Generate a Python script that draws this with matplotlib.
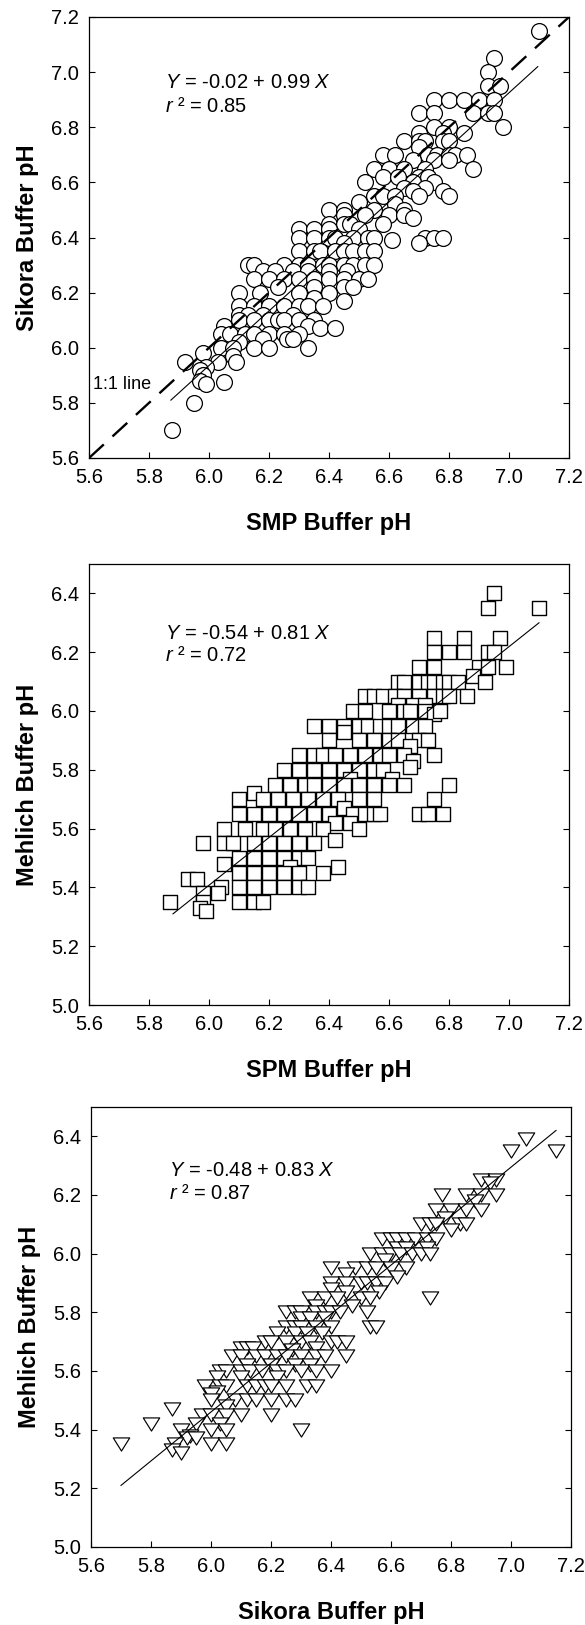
import matplotlib
matplotlib.use('Agg')
import matplotlib.pyplot as plt
from matplotlib.ticker import MultipleLocator, FormatStrFormatter
from matplotlib.path import Path

plt.rcParams['font.family'] = ['Liberation Sans', 'DejaVu Sans']
plt.rcParams['mathtext.fontset'] = 'custom'
plt.rcParams['mathtext.rm'] = 'Liberation Sans'
plt.rcParams['mathtext.it'] = 'Liberation Sans:italic'

# ---------------- Panel 1: SMP vs Sikora ----------------
smp_x = [7.10, 6.95, 6.93, 6.93, 6.97,
         6.75, 6.80, 6.85, 6.90, 6.95,
         6.70, 6.75, 6.88, 6.93, 6.95,
         6.75, 6.80, 6.98,
         6.70, 6.78, 6.85,
         6.65, 6.70, 6.72, 6.78, 6.80,
         6.70,
         6.58, 6.62, 6.73, 6.76, 6.80, 6.82, 6.86,
         6.68, 6.75, 6.80,
         6.55, 6.60, 6.65, 6.72, 6.88,
         6.58, 6.63, 6.70, 6.73,
         6.52, 6.68, 6.75,
         6.65, 6.72,
         6.68, 6.78,
         6.55, 6.58, 6.62, 6.70, 6.80,
         6.50, 6.62,
         6.40, 6.45, 6.55, 6.65,
         6.45, 6.52, 6.60, 6.65,
         6.68,
         6.40, 6.45, 6.47, 6.58,
         6.30, 6.35, 6.40, 6.50,
         6.30, 6.35, 6.40, 6.42, 6.48, 6.53, 6.55, 6.72, 6.75, 6.78,
         6.61,
         6.45, 6.70,
         6.30, 6.35, 6.37, 6.42, 6.45, 6.48, 6.52, 6.55,
         6.13, 6.15, 6.25, 6.30, 6.33, 6.38, 6.40, 6.45, 6.48, 6.52, 6.55,
         6.18, 6.22, 6.28, 6.33, 6.40, 6.46,
         6.15, 6.20, 6.25, 6.30, 6.35, 6.40, 6.45, 6.50, 6.53,
         6.23, 6.35, 6.45, 6.48,
         6.10, 6.17, 6.30, 6.40,
         6.35, 6.45,
         6.10, 6.15, 6.20, 6.25, 6.30, 6.33, 6.38,
         6.10, 6.13, 6.18, 6.28,
         6.10, 6.15, 6.20, 6.23, 6.25, 6.30, 6.35,
         6.05, 6.33,
         6.37, 6.42,
         6.04, 6.07, 6.12, 6.15, 6.20, 6.25, 6.30,
         6.18, 6.26, 6.28,
         6.10,
         6.04, 6.08, 6.15, 6.20, 6.33,
         5.98, 6.08,
         5.92, 6.03, 6.09,
         5.99, 5.97, 5.98,
         5.97, 6.05, 5.99,
         5.95, 5.875]
sikora_y = [7.15, 7.05, 7.00, 6.95, 6.95,
            6.90, 6.90, 6.90, 6.90, 6.90,
            6.85, 6.85, 6.85, 6.85, 6.85,
            6.80, 6.80, 6.80,
            6.78, 6.78, 6.78,
            6.75, 6.75, 6.75, 6.75, 6.75,
            6.73,
            6.70, 6.70, 6.70, 6.70, 6.70, 6.70, 6.70,
            6.68, 6.68, 6.68,
            6.65, 6.65, 6.65, 6.65, 6.65,
            6.62, 6.62, 6.62, 6.62,
            6.60, 6.60, 6.60,
            6.58, 6.58,
            6.57, 6.57,
            6.55, 6.55, 6.55, 6.55, 6.55,
            6.53, 6.52,
            6.50, 6.50, 6.50, 6.50,
            6.48, 6.48, 6.48, 6.48,
            6.47,
            6.45, 6.45, 6.45, 6.45,
            6.43, 6.43, 6.43, 6.43,
            6.40, 6.40, 6.40, 6.40, 6.40, 6.40, 6.40, 6.40, 6.40, 6.40,
            6.39,
            6.38, 6.38,
            6.35, 6.35, 6.35, 6.35, 6.35, 6.35, 6.35, 6.35,
            6.30, 6.30, 6.30, 6.30, 6.30, 6.30, 6.30, 6.30, 6.30, 6.30, 6.30,
            6.28, 6.28, 6.28, 6.28, 6.28, 6.28,
            6.25, 6.25, 6.25, 6.25, 6.25, 6.25, 6.25, 6.25, 6.25,
            6.22, 6.22, 6.22, 6.22,
            6.20, 6.20, 6.20, 6.20,
            6.18, 6.17,
            6.15, 6.15, 6.15, 6.15, 6.15, 6.15, 6.15,
            6.12, 6.12, 6.12, 6.12,
            6.10, 6.10, 6.10, 6.10, 6.10, 6.10, 6.10,
            6.08, 6.08,
            6.07, 6.07,
            6.05, 6.05, 6.05, 6.05, 6.05, 6.05, 6.05,
            6.03, 6.03, 6.03,
            6.02,
            6.00, 6.00, 6.00, 6.00, 6.00,
            5.98, 5.97,
            5.95, 5.95, 5.95,
            5.93, 5.92, 5.90,
            5.88, 5.875, 5.87,
            5.80, 5.70]
reg1_x = [5.873, 7.096]
reg1_y = [5.81, 7.02]
one_to_one = [5.6, 7.2]

# ---------------- Panel 2: SPM vs Mehlich ----------------
spm_x = [6.95,
         6.93, 7.10,
         6.75, 6.85, 6.97,
         6.75, 6.80, 6.85, 6.93, 6.95,
         6.70, 6.75, 6.90, 6.93, 6.99,
         6.88,
         6.63, 6.65, 6.70, 6.73, 6.75, 6.78, 6.80, 6.83, 6.92,
         6.52, 6.55, 6.58, 6.62, 6.65, 6.70, 6.75, 6.78, 6.80, 6.86,
         6.63, 6.68, 6.72,
         6.48, 6.52, 6.60, 6.65, 6.67, 6.72, 6.75, 6.77,
         6.35, 6.40, 6.45, 6.50, 6.53, 6.57, 6.60, 6.63, 6.68, 6.72,
         6.45,
         6.40, 6.50, 6.55, 6.60, 6.63, 6.70, 6.73,
         6.67,
         6.30, 6.35, 6.38, 6.42, 6.47, 6.52, 6.57, 6.60, 6.65, 6.75,
         6.68,
         6.67,
         6.25, 6.30, 6.35, 6.40, 6.45, 6.50, 6.55, 6.58,
         6.47, 6.61,
         6.22, 6.27, 6.32, 6.35, 6.40, 6.45, 6.50, 6.55, 6.60, 6.65, 6.80,
         6.15,
         6.10, 6.18, 6.23, 6.28, 6.33, 6.38, 6.43, 6.50, 6.55, 6.75,
         6.45,
         6.10, 6.15, 6.20, 6.25, 6.30, 6.35, 6.40, 6.48, 6.52, 6.55, 6.57, 6.70, 6.73, 6.78,
         6.42, 6.47,
         6.05, 6.12, 6.18, 6.22, 6.27, 6.32, 6.38, 6.50,
         6.42,
         5.98, 6.05, 6.08, 6.15, 6.20, 6.25, 6.30, 6.35,
         6.10, 6.15, 6.20, 6.25, 6.30, 6.33,
         6.05,
         6.27, 6.43,
         6.10, 6.15, 6.20, 6.25, 6.30, 6.38,
         5.93, 5.96,
         6.04, 6.10, 6.15, 6.20, 6.25, 6.30, 6.33,
         5.98, 6.03,
         5.87, 5.98, 6.10, 6.15, 6.18,
         5.97, 5.99]
mehlich_y2 = [6.40,
              6.35, 6.35,
              6.25, 6.25, 6.25,
              6.20, 6.20, 6.20, 6.20, 6.20,
              6.15, 6.15, 6.15, 6.15, 6.15,
              6.12,
              6.10, 6.10, 6.10, 6.10, 6.10, 6.10, 6.10, 6.10, 6.10,
              6.05, 6.05, 6.05, 6.05, 6.05, 6.05, 6.05, 6.05, 6.05, 6.05,
              6.02, 6.02, 6.02,
              6.00, 6.00, 6.00, 6.00, 6.00, 6.00, 5.99, 6.00,
              5.95, 5.95, 5.95, 5.95, 5.95, 5.95, 5.95, 5.95, 5.95, 5.95,
              5.93,
              5.90, 5.90, 5.90, 5.90, 5.90, 5.90, 5.90,
              5.88,
              5.85, 5.85, 5.85, 5.85, 5.85, 5.85, 5.85, 5.85, 5.85, 5.85,
              5.83,
              5.81,
              5.80, 5.80, 5.80, 5.80, 5.80, 5.80, 5.80, 5.80,
              5.77, 5.77,
              5.75, 5.75, 5.75, 5.75, 5.75, 5.75, 5.75, 5.75, 5.75, 5.75, 5.75,
              5.72,
              5.70, 5.70, 5.70, 5.70, 5.70, 5.70, 5.70, 5.70, 5.70, 5.70,
              5.67,
              5.65, 5.65, 5.65, 5.65, 5.65, 5.65, 5.65, 5.65, 5.65, 5.65, 5.65, 5.65, 5.65, 5.65,
              5.62, 5.62,
              5.60, 5.60, 5.60, 5.60, 5.60, 5.60, 5.60, 5.60,
              5.56,
              5.55, 5.55, 5.55, 5.55, 5.55, 5.55, 5.55, 5.55,
              5.50, 5.50, 5.50, 5.50, 5.50, 5.50,
              5.48,
              5.47, 5.47,
              5.45, 5.45, 5.45, 5.45, 5.45, 5.45,
              5.43, 5.43,
              5.40, 5.40, 5.40, 5.40, 5.40, 5.40, 5.40,
              5.38, 5.38,
              5.35, 5.35, 5.35, 5.35, 5.35,
              5.33, 5.32]
reg2_x = [5.88, 7.10]
reg2_y = [5.31, 6.30]

# ---------------- Panel 3: Sikora vs Mehlich ----------------
sikora_x3 = [7.05,
             7.00, 7.15,
             6.90, 6.95,
             6.93,
             6.77, 6.85, 6.90, 6.95,
             6.88,
             6.75, 6.80, 6.85, 6.90,
             6.78,
             6.70, 6.73, 6.75, 6.83, 6.85,
             6.80,
             6.57, 6.60, 6.62, 6.65, 6.68, 6.72, 6.75,
             6.62, 6.65, 6.72,
             6.53, 6.57, 6.60, 6.63, 6.67, 6.70, 6.73,
             6.58,
             6.40, 6.48, 6.52, 6.55, 6.60, 6.65,
             6.45,
             6.62,
             6.40, 6.45, 6.50, 6.52, 6.55, 6.58,
             6.40,
             6.45, 6.56,
             6.33, 6.38, 6.42, 6.50, 6.53, 6.73,
             6.35, 6.47,
             6.25, 6.28, 6.30, 6.35, 6.38, 6.40, 6.43, 6.52,
             6.30, 6.33, 6.38,
             6.25, 6.28, 6.30, 6.35, 6.40, 6.53, 6.55,
             6.22, 6.28, 6.32, 6.37,
             6.18, 6.20, 6.25, 6.30, 6.33, 6.40, 6.42, 6.45,
             6.10, 6.12, 6.14, 6.35,
             6.27,
             6.07, 6.10, 6.15, 6.18, 6.22, 6.25, 6.30, 6.35, 6.38, 6.45,
             6.12, 6.20, 6.28, 6.33,
             6.03, 6.05, 6.10, 6.13, 6.17, 6.22, 6.25, 6.30, 6.35, 6.40,
             6.02, 6.10, 6.22,
             5.98, 6.03, 6.05, 6.12, 6.15, 6.18, 6.20, 6.25, 6.32, 6.35,
             6.02,
             6.00,
             6.00, 6.08, 6.12, 6.15, 6.20, 6.25, 6.28,
             6.05,
             5.87,
             5.97, 6.00, 6.05, 6.10, 6.20,
             5.80, 5.95, 6.03,
             5.90, 6.00, 6.05, 6.30,
             5.93,
             5.92, 5.95,
             5.70, 5.88, 6.00, 6.05,
             5.87,
             5.90]
mehlich_y3 = [6.39,
              6.35, 6.35,
              6.25, 6.25,
              6.24,
              6.20, 6.20, 6.20, 6.20,
              6.18,
              6.15, 6.15, 6.15, 6.15,
              6.12,
              6.10, 6.10, 6.10, 6.10, 6.10,
              6.08,
              6.05, 6.05, 6.05, 6.05, 6.05, 6.05, 6.05,
              6.02, 6.02, 6.02,
              6.00, 6.00, 6.00, 6.00, 6.00, 6.00, 6.00,
              5.98,
              5.95, 5.95, 5.95, 5.95, 5.95, 5.95,
              5.93,
              5.92,
              5.90, 5.90, 5.90, 5.90, 5.90, 5.90,
              5.88,
              5.87, 5.87,
              5.85, 5.85, 5.85, 5.85, 5.85, 5.85,
              5.82, 5.82,
              5.80, 5.80, 5.80, 5.80, 5.80, 5.80, 5.80, 5.80,
              5.78, 5.78, 5.78,
              5.75, 5.75, 5.75, 5.75, 5.75, 5.75, 5.75,
              5.73, 5.73, 5.73, 5.73,
              5.70, 5.70, 5.70, 5.70, 5.70, 5.70, 5.70, 5.70,
              5.68, 5.68, 5.68, 5.68,
              5.67,
              5.65, 5.65, 5.65, 5.65, 5.65, 5.65, 5.65, 5.65, 5.65, 5.65,
              5.62, 5.62, 5.62, 5.62,
              5.60, 5.60, 5.60, 5.60, 5.60, 5.60, 5.60, 5.60, 5.60, 5.60,
              5.58, 5.58, 5.58,
              5.55, 5.55, 5.55, 5.55, 5.55, 5.55, 5.55, 5.55, 5.55, 5.55,
              5.53,
              5.52,
              5.50, 5.50, 5.50, 5.50, 5.50, 5.50, 5.50,
              5.48,
              5.47,
              5.45, 5.45, 5.45, 5.45, 5.45,
              5.42, 5.42, 5.42,
              5.40, 5.40, 5.40, 5.40,
              5.38,
              5.37, 5.37,
              5.35, 5.35, 5.35, 5.35,
              5.33,
              5.32]
reg3_x = [5.70, 7.15]
reg3_y = [5.21, 6.42]

# ---------------- Texts ----------------
x_labels = ['SMP Buffer pH', 'SPM Buffer pH', 'Sikora Buffer pH']
y_labels = ['Sikora Buffer pH', 'Mehlich Buffer pH', 'Mehlich Buffer pH']
eq_lines = [r'$\it{Y}$ = -0.02 + 0.99 $\it{X}$',
            r'$\it{Y}$ = -0.54 + 0.81 $\it{X}$',
            r'$\it{Y}$ = -0.48 + 0.83 $\it{X}$']
r2_lines = [r'$\it{r}$ ² = 0.85', r'$\it{r}$ ² = 0.72', r'$\it{r}$ ² = 0.87']

W, H = 585, 1625
fig = plt.figure(figsize=(W / 100, H / 100), dpi=100)

# axes boxes in pixels: left, top, right, bottom
boxes = [(89, 17, 569, 458), (89, 564, 569, 1005), (91, 1107, 571, 1547)]
axes = []
for (l, t, r, b) in boxes:
    ax = fig.add_axes([l / W, 1 - b / H, (r - l) / W, (b - t) / H])
    axes.append(ax)

tri = Path([(-1, 0.8), (1, 0.8), (0, -0.8), (-1, 0.8)], closed=True)

ax1, ax2, ax3 = axes
ax1.scatter(smp_x, sikora_y, s=130, marker='o', facecolors='white',
            edgecolors='black', linewidths=0.9, zorder=2)
ax1.plot(reg1_x, reg1_y, color='black', lw=0.8, zorder=3)
ax1.plot(one_to_one, one_to_one, color='black', lw=1.7,
         linestyle=(0, (8.5, 5)), zorder=3)
ax1.text(5.613, 5.866, '1:1 line', fontsize=13, va='center', ha='left')

ax2.scatter(spm_x, mehlich_y2, s=106, marker='s', facecolors='white',
            edgecolors='black', linewidths=1.0, zorder=2)
ax2.plot(reg2_x, reg2_y, color='black', lw=0.8, zorder=3)

ax3.scatter(sikora_x3, mehlich_y3, s=140, marker=tri, facecolors='white',
            edgecolors='black', linewidths=0.85, zorder=2)
ax3.plot(reg3_x, reg3_y, color='black', lw=0.8, zorder=3)

ylims = [(5.6, 7.2), (5.0, 6.5), (5.0, 6.5)]
eq_pos = [(5.853, 6.961, 6.874), (5.853, 6.263, 6.188), (5.859, 6.282, 6.205)]

for i, ax in enumerate(axes):
    ax.set_xlim(5.6, 7.2)
    ax.set_ylim(*ylims[i])
    ax.xaxis.set_major_locator(MultipleLocator(0.2))
    ax.yaxis.set_major_locator(MultipleLocator(0.2))
    ax.xaxis.set_major_formatter(FormatStrFormatter('%.1f'))
    ax.yaxis.set_major_formatter(FormatStrFormatter('%.1f'))
    ax.tick_params(direction='in', length=4, width=0.8, pad=7,
                   labelsize=14.5, right=True, top=False)
    for sp in ax.spines.values():
        sp.set_linewidth(0.9)
    ax.set_xlabel(x_labels[i], fontsize=17, fontweight='bold')
    ax.set_ylabel(y_labels[i], fontsize=17, fontweight='bold')
    ax.xaxis.set_label_coords(0.5, -0.148)
    ax.yaxis.set_label_coords(-0.128, 0.5)
    ax.xaxis.label.set_va('center')
    ax.yaxis.label.set_va('center')
    ex, ey1, ey2 = eq_pos[i]
    ax.text(ex, ey1, eq_lines[i], fontsize=14.5, va='center', ha='left')
    ax.text(ex, ey2, r2_lines[i], fontsize=14.5, va='center', ha='left')

fig.savefig('out.png', dpi=100)
